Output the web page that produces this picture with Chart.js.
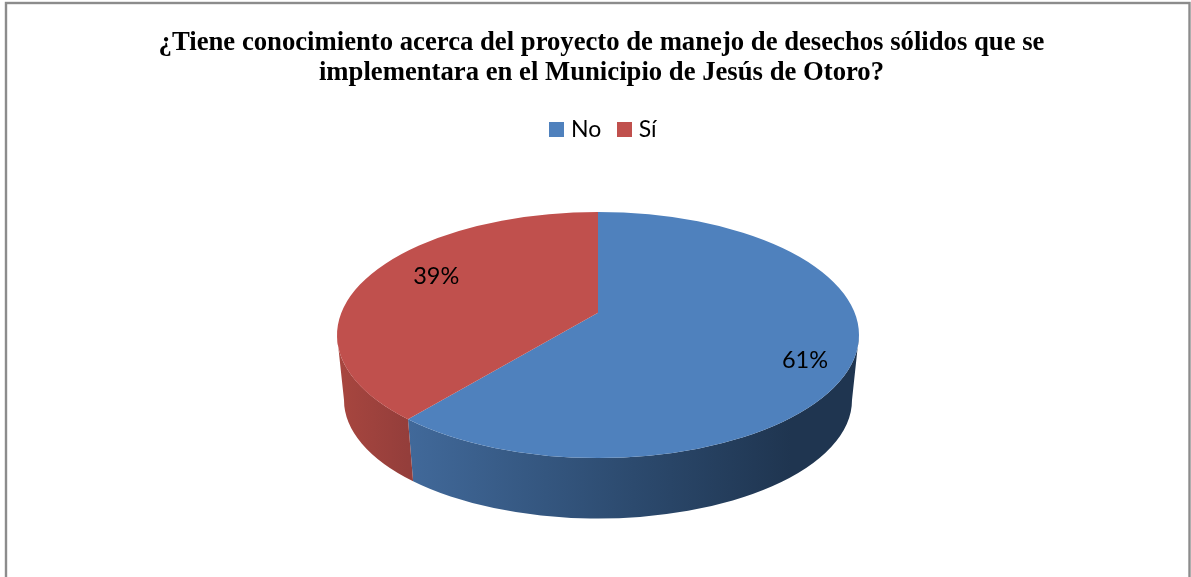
<!DOCTYPE html>
<html lang="es">
<head>
<meta charset="utf-8">
<style>html,body{margin:0;padding:0;background:#fff;overflow:hidden}canvas{display:block}</style>
<script src="https://cdn.jsdelivr.net/npm/chart.js@4"></script>
</head>
<body>
<canvas id="c" width="1191" height="577"></canvas>
<script>
const titleLines = [
  "¿Tiene conocimiento acerca del proyecto de manejo de desechos sólidos que se",
  "implementara en el Municipio de Jesús de Otoro?"
];
const categories = ["No", "Sí"];
const values = [61, 39];
const sliceColors = ["#4F81BD", "#C0504D"];
const wallStops = [
  [[0, "#41699A"], [0.5, "#2C4A6E"], [0.85, "#1F3550"], [1, "#1F3550"]],
  [[0, "#A8463F"], [1, "#943E3B"]]
];
// label placement inside the squashed top face, as fractions of the radii
const labelFractions = [[0.793, 0.21], [-0.62, -0.48]];

const SQUASH = 123 / 261;      // top face height / width
const APEX_SHIFT = 0.18;       // perspective: apex sits above the ellipse centre
const DEPTH_Y = 65;            // lower rim centre below upper rim centre
const LOWER_RX = 254 / 261;    // lower rim narrower than upper rim
const X_SHIFT = -3.5;          // pie sits a bit left of the title centre
const LEGEND_SHIFT = 3.5;      // legend sits a bit right of the title centre

function geom(el) {
  const rx = el.outerRadius, ry = rx * SQUASH;
  return { cx: el.x + X_SHIFT, cy: el.y, rx, ry };
}
function project(alpha) {
  const u = Math.cos(alpha), v = Math.sin(alpha), a = APEX_SHIFT;
  const d = 1 - a * v;
  return Math.atan2((v - a) / d, u * Math.sqrt(1 - a * a) / d);
}
function range(el) {
  const p1 = project(el.startAngle);
  let p2 = project(el.endAngle);
  while (p2 <= p1) p2 += Math.PI * 2;
  return [p1, p2];
}
function swatch(color) {
  const s = document.createElement("canvas");
  s.width = 15; s.height = 15;
  const c = s.getContext("2d");
  c.fillStyle = color;
  c.fillRect(0, 0, 15, 15);
  return s;
}

const pie3d = {
  id: "pie3d",
  afterLayout(chart) {
    chart.legend.left += LEGEND_SHIFT;
    chart.legend.right += LEGEND_SHIFT;
  },
  beforeDraw(chart) {
    const { ctx, width, height } = chart;
    ctx.save();
    ctx.fillStyle = "#fff";
    ctx.fillRect(0, 0, width, height);
    ctx.strokeStyle = "#8C8C8C";
    ctx.lineWidth = 2.4;
    ctx.strokeRect(6, 3, 1183.5, height + 20);
    ctx.restore();
  },
  beforeDatasetDraw(chart, args) {
    const { ctx } = chart;
    const arcs = chart.getDatasetMeta(args.index).data;
    // side walls first
    arcs.forEach((el, i) => {
      const g = geom(el);
      let [a, b] = range(el);
      // keep only the part of the rim that faces the viewer (0..PI)
      const k = Math.ceil((0 - b) / (2 * Math.PI));
      a += k * 2 * Math.PI; b += k * 2 * Math.PI;
      a = Math.max(a, 0); b = Math.min(b, Math.PI);
      if (b <= a) return;
      const lrx = g.rx * LOWER_RX, lry = g.ry * LOWER_RX * 0.99;
      const grad = ctx.createLinearGradient(g.cx + g.rx * Math.cos(b), 0, g.cx + g.rx * Math.cos(a), 0);
      wallStops[i].forEach(s => grad.addColorStop(s[0], s[1]));
      ctx.save();
      ctx.fillStyle = grad;
      ctx.beginPath();
      ctx.ellipse(g.cx, g.cy, g.rx, g.ry, 0, a, b, false);
      ctx.ellipse(g.cx, g.cy + DEPTH_Y, lrx, lry, 0, b, a, true);
      ctx.closePath();
      ctx.fill();
      ctx.restore();
    });
    // top faces
    arcs.forEach(el => {
      const g = geom(el);
      const [a, b] = range(el);
      ctx.save();
      ctx.fillStyle = el.options.backgroundColor;
      ctx.beginPath();
      ctx.moveTo(g.cx, g.cy - APEX_SHIFT * g.ry);
      ctx.ellipse(g.cx, g.cy, g.rx, g.ry, 0, a, b, false);
      ctx.closePath();
      ctx.fill();
      ctx.restore();
    });
    // value labels
    arcs.forEach((el, i) => {
      const g = geom(el);
      ctx.save();
      ctx.fillStyle = "#000";
      ctx.font = '23.5px Lato, Carlito, sans-serif';
      ctx.textAlign = "center";
      ctx.textBaseline = "middle";
      ctx.fillText(values[i] + "%", g.cx + g.rx * labelFractions[i][0], g.cy + g.ry * labelFractions[i][1]);
      ctx.restore();
    });
    return false;
  }
};

new Chart(document.getElementById("c"), {
  type: "pie",
  data: {
    labels: categories,
    datasets: [{ data: values, backgroundColor: sliceColors, borderWidth: 0 }]
  },
  options: {
    responsive: false,
    animation: false,
    radius: 261,
    layout: { padding: { left: 12, right: 0, top: 0, bottom: 58 } },
    plugins: {
      tooltip: { enabled: false },
      title: {
        display: true,
        text: titleLines,
        color: "#000",
        font: { family: '"Liberation Serif", serif', size: 26.7, weight: "bold", lineHeight: 1.124 },
        padding: { top: 28, bottom: 10 }
      },
      legend: {
        display: true,
        position: "top",
        labels: {
          color: "#000",
          usePointStyle: true,
          pointStyleWidth: 6,
          boxHeight: 15,
          padding: 20,
          font: { family: "Lato, Carlito, sans-serif", size: 23 },
          generateLabels(chart) {
            return Chart.overrides.pie.plugins.legend.labels.generateLabels(chart)
              .map((item, i) => Object.assign(item, { pointStyle: swatch(sliceColors[i]) }));
          }
        }
      }
    }
  },
  plugins: [pie3d]
});
</script>
</body>
</html>
